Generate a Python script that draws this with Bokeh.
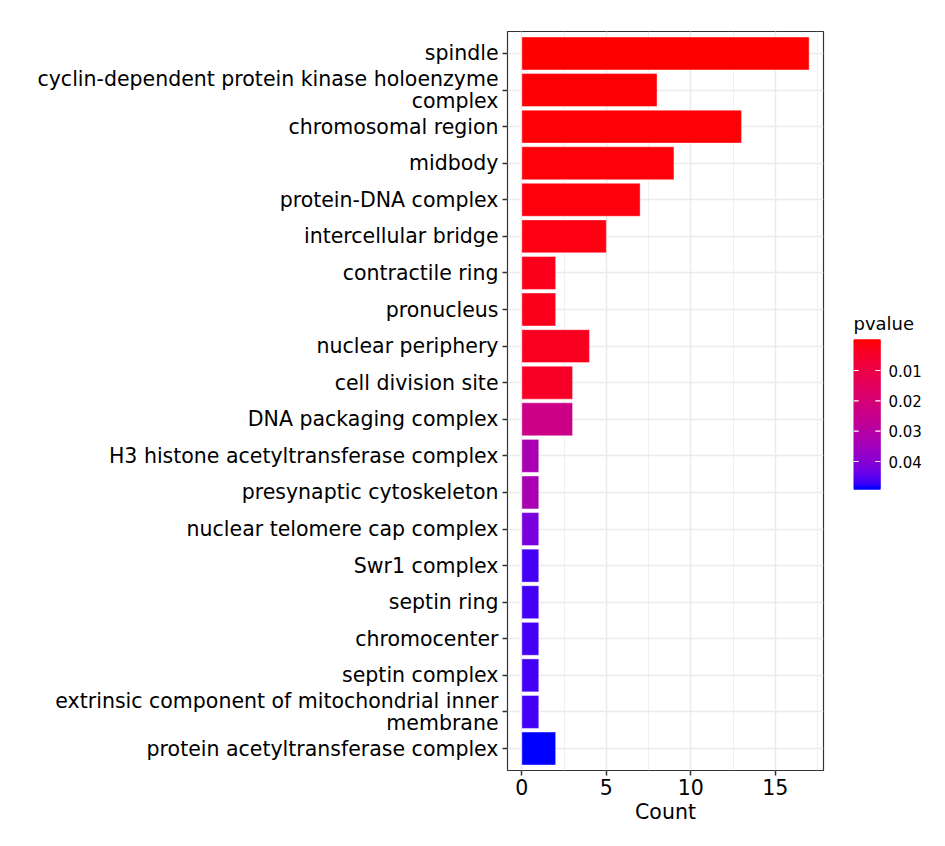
from bokeh.plotting import figure
from bokeh.models import (ColumnDataSource, FactorRange, Range1d, Label,
                          SingleIntervalTicker)
from bokeh.core.properties import value
from bokeh.layouts import row
from bokeh.embed import file_html
from bokeh.resources import INLINE
import numpy as np

# GO cellular component terms, top to bottom as drawn
terms = [
    "spindle",
    "cyclin-dependent protein kinase holoenzyme\ncomplex",
    "chromosomal region",
    "midbody",
    "protein-DNA complex",
    "intercellular bridge",
    "contractile ring",
    "pronucleus",
    "nuclear periphery",
    "cell division site",
    "DNA packaging complex",
    "H3 histone acetyltransferase complex",
    "presynaptic cytoskeleton",
    "nuclear telomere cap complex",
    "Swr1 complex",
    "septin ring",
    "chromocenter",
    "septin complex",
    "extrinsic component of mitochondrial inner\nmembrane",
    "protein acetyltransferase complex",
]
counts = [17, 8, 13, 9, 7, 5, 2, 2, 4, 3, 3, 1, 1, 1, 1, 1, 1, 1, 1, 2]
pvalues = [0.0001, 0.0004, 0.0006, 0.0008, 0.0012, 0.0015, 0.0025, 0.0025, 0.0035, 0.0045,
           0.024, 0.0335, 0.0335, 0.042, 0.047, 0.047, 0.047, 0.047, 0.047, 0.0489]
pv_ticks = [0.01, 0.02, 0.03, 0.04]
pv_tick_labels = ["0.01", "0.02", "0.03", "0.04"]


# red -> blue gradient interpolated in Lab, like ggplot's scale_fill_gradient
def to_lab(rgb):
    c = np.array(rgb) / 255.0
    c = np.where(c > 0.04045, ((c + 0.055) / 1.055) ** 2.4, c / 12.92)
    m = np.array([[0.4124, 0.3576, 0.1805], [0.2126, 0.7152, 0.0722], [0.0193, 0.1192, 0.9505]])
    xyz = m @ c / np.array([0.95047, 1.0, 1.08883])
    f = np.where(xyz > 0.008856, np.cbrt(xyz), 7.787 * xyz + 16 / 116)
    return np.array([116 * f[1] - 16, 500 * (f[0] - f[1]), 200 * (f[1] - f[2])])


def from_lab(lab):
    fy = (lab[0] + 16) / 116
    f = np.array([fy + lab[1] / 500, fy, fy - lab[2] / 200])
    xyz = np.where(f ** 3 > 0.008856, f ** 3, (f - 16 / 116) / 7.787) * np.array([0.95047, 1.0, 1.08883])
    m = np.array([[3.2406, -1.5372, -0.4986], [-0.9689, 1.8758, 0.0415], [0.0557, -0.2040, 1.0570]])
    c = np.clip(m @ xyz, 0, 1)
    c = np.where(c > 0.0031308, 1.055 * c ** (1 / 2.4) - 0.055, 12.92 * c)
    r, g, b = (np.clip(c, 0, 1) * 255).round().astype(int)
    return "#%02x%02x%02x" % (r, g, b)


LAB_RED, LAB_BLUE = to_lab((255, 0, 0)), to_lab((0, 0, 255))
pmin, pmax = min(pvalues), max(pvalues)


def grad(t):
    return from_lab(LAB_RED + (LAB_BLUE - LAB_RED) * t)


colors = [grad((p - pmin) / (pmax - pmin)) for p in pvalues]

source = ColumnDataSource(data=dict(term=terms, count=counts, pvalue=pvalues, color=colors))

H, TOP, BOTTOM = 840, 31, 70

p = figure(width=853, height=H, output_backend="svg", toolbar_location=None,
           y_range=FactorRange(factors=list(reversed(terms)), range_padding=0.1,
                               range_padding_units="absolute"),
           x_range=(-0.85, 17.85),
           min_border_left=507, min_border_top=TOP, min_border_bottom=BOTTOM, min_border_right=30)

p.hbar(y="term", right="count", left=0, height=0.9, fill_color="color",
       line_color="white", line_alpha=0.4, line_width=1, source=source)

# panel like theme_bw
p.background_fill_color = "white"
p.outline_line_color = "#333333"
p.outline_line_width = 1.2
p.xgrid.grid_line_color = "#ebebeb"
p.xgrid.grid_line_width = 1.5
p.xgrid.minor_grid_line_color = "#ebebeb"
p.xgrid.minor_grid_line_width = 0.8
p.ygrid.grid_line_color = "#ebebeb"
p.ygrid.grid_line_width = 1.5

p.xaxis.ticker = SingleIntervalTicker(interval=5, num_minor_ticks=2)
p.xaxis.axis_label = "Count"

for ax in (p.xaxis[0], p.yaxis[0]):
    ax.axis_line_color = None
    ax.major_tick_line_color = "#333333"
    ax.major_tick_line_width = 1.5
    ax.major_tick_out = 5
    ax.major_tick_in = 0
    ax.minor_tick_line_color = None
    ax.major_label_text_font = "DejaVu Sans"
    ax.major_label_text_font_size = "20.5px"
    ax.major_label_text_color = "black"
    ax.axis_label_text_font = "DejaVu Sans"
    ax.axis_label_text_font_size = "20.5px"
    ax.axis_label_text_font_style = "normal"
    ax.axis_label_text_color = "black"

p.yaxis.major_label_standoff = 4
p.yaxis.major_label_text_line_height = 0.95
p.xaxis.major_label_standoff = 3
p.xaxis.axis_label_standoff = 2

# colour bar as its own figure with the same frame height; small p (red) on top
LEG_W, BAR_W = 90, 27
frame_h = H - TOP - BOTTOM
bar_top, bar_h = 340 - TOP, 148
k = (pmax - pmin) / bar_h
levels = np.linspace(pmin, pmax, 150)
step = levels[1] - levels[0]
bar_colors = [grad((v - pmin) / (pmax - pmin)) for v in levels]

leg = figure(width=LEG_W, height=H, output_backend="svg", toolbar_location=None,
             x_range=(0, LEG_W / BAR_W),
             y_range=Range1d(pmax + (frame_h - bar_top - bar_h) * k, pmin - bar_top * k),
             min_border_left=0, min_border_right=0, min_border_top=TOP, min_border_bottom=BOTTOM)
leg.hbar(y=levels, height=step * 2.5, left=0, right=1, fill_color=bar_colors, line_color=None)
leg.hbar(y=[pmin + step * 0.6], height=step * 1.2, left=0, right=1,
         fill_color=bar_colors[0], line_color=None)
leg.segment(x0=0, x1=0.19, y0=pv_ticks, y1=pv_ticks, line_color="white", line_width=1.2)
leg.segment(x0=0.81, x1=1, y0=pv_ticks, y1=pv_ticks, line_color="white", line_width=1.2)
leg.text(x=1, y=pv_ticks, text=pv_tick_labels, x_offset=8, text_baseline="middle",
         text_font=value("DejaVu Sans"), text_font_size="15px", text_color="black")
leg.add_layout(Label(x=0, y=pmin - 7 * k, text="pvalue", text_baseline="bottom",
                     text_font="DejaVu Sans", text_font_size="18px", text_color="black"))
leg.outline_line_color = None
leg.grid.grid_line_color = None
leg.xaxis.visible = False
leg.yaxis.visible = False

layout = row(p, leg)
open("out.html", "w").write(file_html(layout, INLINE))
